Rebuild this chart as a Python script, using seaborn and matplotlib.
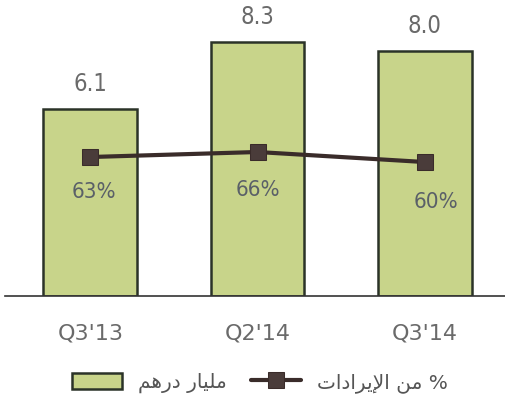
import pandas as pd
import matplotlib.pyplot as plt
import seaborn as sns

quarters = ["Q3'13", "Q2'14", "Q3'14"]
revenue_bn = [6.1, 8.3, 8.0]
pct_revenue = [63, 66, 60]

# Arabic legend labels, pre-shaped (presentation forms, visual order)
label_bars = "\uFEE2\uFEEB\uFEAD\uFEA9 \uFEAD\uFE8E\uFEF4\uFEE0\uFEE3"       # مليار درهم
label_line = "\uFE95\uFE8D\uFEA9\uFE8D\uFEAE\uFEF3\uFEF9\uFE8D \uFEE6\uFEE3 %"  # % من الإيرادات

df = pd.DataFrame({"quarter": quarters, "value": revenue_bn, "pct": pct_revenue})

sns.set_style("white")
plt.rcParams['font.family'] = ['DejaVu Sans']

fig = plt.figure(figsize=(5.05, 4.03), dpi=100)
ax = fig.add_axes([5 / 505, 107 / 403, 500 / 505, 296 / 403])

bar_fill = "#c8d48a"
bar_edge = "#2b3328"
line_col = "#3a2c2a"
text_col = "#6a6a6a"

sns.barplot(data=df, x="quarter", y="value", ax=ax, color=bar_fill,
            edgecolor=bar_edge, linewidth=1.8, width=0.56, saturation=1,
            label=label_bars)
ax.set_xlim(-0.51, 2.48)
ax.set_ylim(0, 9.67)

for i, v in enumerate(revenue_bn):
    ax.text(i, v + 0.82, f"{v:.1f}", ha="center", va="center",
            fontsize=17, color=text_col, fontstretch="condensed")

ax2 = ax.twinx()
sns.lineplot(data=df, x="quarter", y="pct", ax=ax2, color=line_col,
             linewidth=3, marker="s", markersize=12, markeredgecolor=line_col,
             markerfacecolor="#4a3c3a", sort=False, label=label_line, legend=False)
ax2.set_ylim(-20.2, 157)

# label placement below each marker
dx = [0.02, 0.0, 0.07]
dy = [21, 22.8, 24]
for i, p in enumerate(pct_revenue):
    ax2.text(i + dx[i], p - dy[i], f"{p}%", ha="center", va="center",
             fontsize=16, color="#5a6068", fontstretch="condensed")

for a in (ax, ax2):
    a.set_yticks([])
    a.set_ylabel("")
    a.set_xlabel("")
    for s in ["top", "right", "left"]:
        a.spines[s].set_visible(False)
ax2.spines["bottom"].set_visible(False)
ax.spines["bottom"].set_color("#333333")
ax.spines["bottom"].set_linewidth(1.2)

ax.tick_params(axis="x", length=0, pad=20, labelsize=16, labelcolor=text_col)

h1, l1 = ax.get_legend_handles_labels()
h2, l2 = ax2.get_legend_handles_labels()
if ax.get_legend():
    ax.get_legend().remove()
fig.legend(h1 + h2, l1 + l2, loc="center", bbox_to_anchor=(260 / 505, 1 - 383 / 403),
           ncol=2, frameon=False, fontsize=14.5, labelcolor="#555555",
           handlelength=2.5, handleheight=0.9, columnspacing=1.2, handletextpad=0.8)

fig.savefig("out.png", dpi=100)
